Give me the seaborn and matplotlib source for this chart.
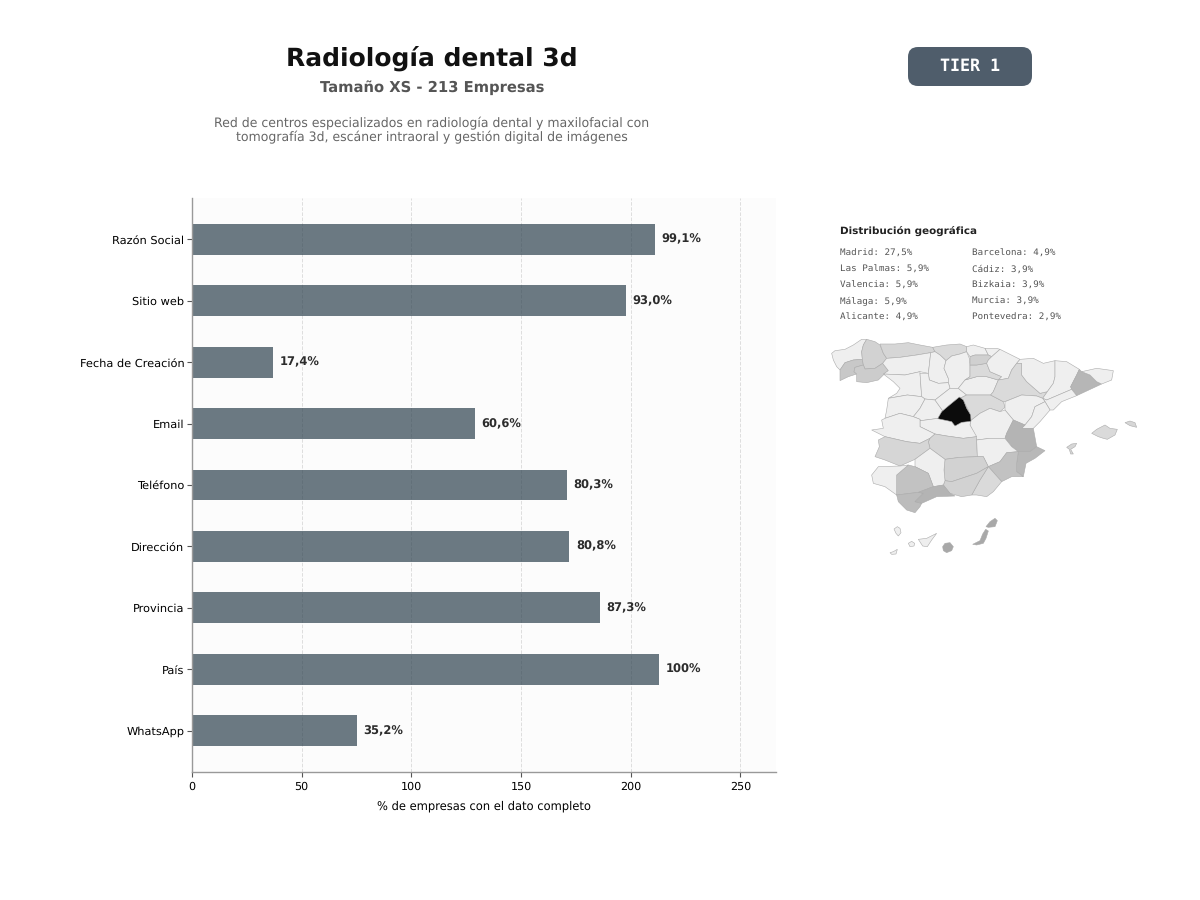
# Radiologia dental 3d - data completeness and geographic distribution
import matplotlib
matplotlib.use('Agg')
import pandas as pd
import seaborn as sns
import matplotlib.pyplot as plt
from matplotlib.patches import FancyBboxPatch

# DATA
campos = ['Razón Social', 'Sitio web', 'Fecha de Creación', 'Email', 'Teléfono',
          'Dirección', 'Provincia', 'País', 'WhatsApp']
empresas = [211, 198, 37, 129, 171, 172, 186, 213, 75]
etiquetas = ['99,1%', '93,0%', '17,4%', '60,6%', '80,3%', '80,8%', '87,3%', '100%', '35,2%']
ticks_x = [0, 50, 100, 150, 200, 250]

geo_col1 = ['Madrid: 27,5%', 'Las Palmas: 5,9%', 'Valencia: 5,9%', 'Málaga: 5,9%', 'Alicante: 4,9%']
geo_col2 = ['Barcelona: 4,9%', 'Cádiz: 3,9%', 'Bizkaia: 3,9%', 'Murcia: 3,9%', 'Pontevedra: 2,9%']

# province outlines, with the grey each one is filled with
provincias = {
    'Coruña': ('#efefef', [(35, 70), (45, 62), (75, 58), (100, 45), (125, 28), (140, 28), (130, 45), (125, 65), (127, 88), (100, 90), (75, 98), (60, 120), (50, 110), (40, 90)]),
    'Pontevedra': ('#c8c8c8', [(60, 152), (60, 120), (75, 98), (100, 90), (127, 88), (130, 105), (105, 112), (102, 125), (110, 132), (85, 140)]),
    'Lugo': ('#d2d2d2', [(140, 28), (165, 35), (180, 45), (190, 70), (200, 85), (188, 100), (165, 115), (135, 117), (130, 105), (127, 88), (125, 65), (130, 45)]),
    'Ourense': ('#cccccc', [(105, 112), (130, 105), (135, 117), (165, 115), (188, 100), (205, 122), (195, 130), (175, 150), (140, 158), (110, 155), (110, 132), (102, 125)]),
    'Asturias': ('#d6d6d6', [(180, 42), (225, 42), (265, 38), (300, 45), (338, 52), (345, 65), (332, 68), (290, 75), (240, 82), (200, 85), (190, 70)]),
    'Cantabria': ('#dadada', [(338, 52), (380, 45), (420, 42), (440, 50), (440, 65), (420, 72), (395, 78), (378, 92), (360, 75), (345, 65)]),
    'León': ('#efefef', [(200, 85), (240, 82), (290, 75), (332, 68), (328, 105), (325, 130), (300, 125), (255, 135), (190, 132), (205, 122), (188, 100)]),
    'Palencia': ('#efefef', [(332, 68), (345, 65), (360, 75), (378, 92), (372, 115), (385, 145), (385, 158), (355, 160), (328, 150), (325, 130), (328, 105)]),
    'Burgos': ('#efefef', [(378, 92), (395, 78), (420, 72), (440, 65), (448, 85), (450, 105), (450, 140), (435, 150), (415, 175), (390, 175), (385, 158), (385, 145), (372, 115)]),
    'Zamora': ('#efefef', [(190, 132), (255, 135), (300, 125), (300, 130), (305, 200), (262, 195), (205, 205), (230, 190), (240, 175), (220, 155)]),
    'Valladolid': ('#efefef', [(300, 130), (325, 130), (328, 150), (355, 160), (385, 158), (390, 175), (345, 210), (315, 207), (305, 200)]),
    'Salamanca': ('#efefef', [(205, 205), (262, 195), (305, 200), (315, 207), (300, 235), (280, 260), (240, 250), (195, 265), (200, 240)]),
    'Ávila': ('#efefef', [(315, 207), (345, 210), (370, 245), (355, 265), (295, 273), (280, 260), (300, 235)]),
    'Segovia': ('#efefef', [(345, 210), (390, 175), (415, 175), (440, 195), (420, 205), (395, 225), (370, 245)]),
    'Soria': ('#efefef', [(415, 175), (435, 150), (470, 140), (500, 140), (535, 150), (520, 185), (512, 195), (470, 195), (440, 195)]),
    'La Rioja': ('#dadada', [(450, 105), (470, 105), (500, 100), (510, 125), (545, 140), (535, 150), (500, 140), (470, 140), (435, 150), (450, 140)]),
    'Guadalajara': ('#dadada', [(420, 205), (440, 195), (470, 195), (512, 195), (550, 215), (555, 232), (540, 245), (510, 235), (480, 250), (452, 272), (445, 240), (432, 215)]),
    'Bizkaia': ('#efefef', [(440, 50), (460, 45), (495, 55), (505, 75), (465, 75), (450, 80), (440, 65)]),
    'Gipuzkoa': ('#efefef', [(495, 55), (530, 55), (540, 58), (515, 80), (505, 75)]),
    'Álava': ('#d0d0d0', [(450, 80), (465, 75), (505, 75), (515, 80), (505, 90), (500, 100), (470, 105), (450, 105)]),
    'Navarra': ('#efefef', [(505, 90), (515, 80), (540, 58), (600, 88), (590, 100), (575, 120), (565, 145), (535, 150), (545, 140), (510, 125), (500, 100)]),
    'Zaragoza': ('#dadada', [(565, 145), (575, 120), (590, 100), (605, 100), (605, 135), (620, 155), (660, 190), (682, 185), (668, 205), (650, 198), (605, 195), (555, 215), (550, 215), (512, 195), (520, 185), (535, 150)]),
    'Huesca': ('#efefef', [(600, 88), (640, 85), (670, 100), (705, 92), (705, 140), (700, 160), (682, 185), (660, 190), (620, 155), (605, 135), (605, 100), (590, 100)]),
    'Lleida': ('#efefef', [(705, 92), (740, 95), (778, 118), (770, 135), (752, 170), (755, 178), (680, 210), (668, 205), (682, 185), (700, 160), (705, 140)]),
    'Barcelona': ('#b6b6b6', [(778, 118), (785, 125), (810, 135), (830, 155), (845, 162), (770, 197), (755, 178), (752, 170), (770, 135)]),
    'Girona': ('#efefef', [(785, 125), (830, 115), (880, 122), (875, 150), (845, 162), (830, 155), (810, 135)]),
    'Tarragona': ('#efefef', [(680, 210), (755, 178), (770, 197), (725, 215), (700, 240), (690, 240), (675, 215), (668, 205)]),
    'Teruel': ('#efefef', [(555, 215), (605, 195), (650, 198), (668, 205), (675, 215), (645, 230), (635, 260), (615, 285), (580, 270), (555, 240), (555, 232)]),
    'Castellón': ('#efefef', [(645, 230), (675, 215), (690, 240), (660, 275), (640, 295), (605, 295), (615, 285), (635, 260)]),
    'Cuenca': ('#efefef', [(480, 250), (510, 235), (540, 245), (555, 240), (580, 270), (560, 310), (555, 325), (510, 325), (470, 330), (450, 285), (452, 272)]),
    'Valencia': ('#b4b4b4', [(580, 270), (615, 285), (605, 295), (640, 295), (650, 350), (630, 365), (595, 365), (575, 350), (555, 325), (560, 310)]),
    'Toledo': ('#efefef', [(280, 260), (295, 273), (355, 265), (395, 272), (405, 285), (425, 275), (452, 272), (450, 285), (470, 320), (430, 325), (380, 318), (345, 312), (300, 290), (300, 268)]),
    'Cáceres': ('#efefef', [(195, 265), (240, 250), (280, 260), (300, 268), (300, 290), (345, 312), (330, 325), (300, 340), (260, 335), (195, 320), (155, 300), (190, 295), (185, 270)]),
    'Ciudad Real': ('#d6d6d6', [(345, 312), (380, 318), (430, 325), (470, 320), (470, 330), (472, 380), (420, 382), (375, 388), (330, 355), (325, 335), (330, 325)]),
    'Badajoz': ('#d6d6d6', [(175, 330), (195, 320), (260, 335), (300, 340), (330, 325), (325, 335), (330, 355), (285, 388), (240, 408), (195, 390), (165, 380), (178, 350)]),
    'Albacete': ('#efefef', [(470, 330), (510, 325), (555, 325), (575, 350), (595, 365), (560, 368), (540, 395), (505, 410), (490, 380), (472, 380)]),
    'Alicante': ('#b8b8b8', [(595, 365), (630, 365), (650, 350), (675, 362), (645, 385), (618, 400), (610, 440), (590, 425), (590, 400)]),
    'Murcia': ('#c2c2c2', [(505, 410), (540, 395), (560, 368), (595, 365), (590, 400), (590, 425), (610, 440), (575, 440), (545, 455)]),
    'Almería': ('#dadada', [(505, 410), (545, 455), (520, 485), (500, 500), (470, 495), (455, 495), (480, 450)]),
    'Jaén': ('#d2d2d2', [(375, 388), (420, 382), (472, 380), (490, 380), (505, 410), (470, 430), (395, 455), (375, 452), (372, 420)]),
    'Granada': ('#d2d2d2', [(370, 465), (375, 452), (395, 455), (470, 430), (505, 410), (480, 450), (455, 495), (425, 500), (390, 490)]),
    'Córdoba': ('#efefef', [(285, 388), (330, 355), (375, 388), (372, 420), (375, 452), (370, 465), (340, 470), (325, 430), (285, 410)]),
    'Sevilla': ('#c2c2c2', [(230, 435), (265, 405), (285, 410), (325, 430), (340, 470), (295, 487), (230, 495)]),
    'Huelva': ('#efefef', [(155, 435), (175, 410), (240, 408), (265, 405), (230, 435), (230, 495), (195, 470), (160, 460)]),
    'Cádiz': ('#bcbcbc', [(230, 495), (295, 487), (310, 490), (285, 515), (305, 520), (300, 530), (285, 548), (260, 540), (235, 515)]),
    'Málaga': ('#b4b4b4', [(285, 515), (310, 490), (295, 487), (340, 470), (370, 465), (390, 490), (405, 498), (350, 500), (305, 520)]),
    'Mallorca': ('#dadada', [(815, 310), (830, 298), (855, 285), (870, 295), (892, 298), (885, 315), (862, 328), (850, 325), (835, 320)]),
    'Menorca': ('#d6d6d6', [(915, 278), (930, 273), (945, 278), (950, 292), (930, 287)]),
    'Ibiza': ('#d6d6d6', [(740, 352), (755, 342), (770, 340), (765, 350), (752, 358), (760, 372), (752, 372), (748, 358)]),
    'Lanzarote': ('#a8a8a8', [(498, 590), (510, 575), (525, 565), (532, 572), (525, 590), (505, 592)]),
    'Fuerteventura': ('#a8a8a8', [(458, 643), (480, 632), (488, 612), (497, 598), (505, 603), (498, 625), (490, 640), (470, 645)]),
    'Gran Canaria': ('#a8a8a8', [(368, 650), (375, 640), (390, 638), (400, 650), (395, 662), (380, 668), (370, 662)]),
    'Tenerife': ('#eeeeee', [(295, 628), (320, 625), (350, 610), (335, 630), (322, 650), (308, 648)]),
    'La Gomera': ('#efefef', [(265, 640), (275, 634), (284, 640), (282, 648), (270, 650)]),
    'La Palma': ('#efefef', [(222, 597), (232, 590), (240, 595), (243, 608), (235, 618), (228, 610)]),
    'El Hierro': ('#efefef', [(210, 668), (220, 665), (232, 658), (228, 672), (215, 673)]),
    'Madrid': ('#0c0c0c', [(418, 201), (430, 210), (440, 235), (452, 255), (453, 274), (425, 277), (405, 288), (395, 275), (353, 266), (365, 245), (385, 228)]),
}

df = pd.DataFrame({'campo': campos, 'empresas': empresas})

sns.set_theme(style='white')
plt.rcParams['font.family'] = ['DejaVu Sans']
plt.rcParams['text.hinting'] = 'no_hinting'
plt.rcParams['text.hinting_factor'] = 8

W, H = 1200, 900
fig = plt.figure(figsize=(12, 9), dpi=100, facecolor='white')

# BARS
ax = fig.add_axes([192 / W, 1 - 772 / H, (776 - 192) / W, (772 - 198) / H])
ax.set_facecolor('#fcfcfc')
sns.barplot(data=df, y='campo', x='empresas', color='#2e424f', saturation=1, alpha=0.7,
            width=0.5, orient='h', linewidth=0, ax=ax)
ax.set_xlim(0, 266.25)
ax.set_ylim(8.675, -0.675)
ax.set_xticks(ticks_x)
ax.set_axisbelow(True)
ax.grid(axis='x', linestyle='--', color='#999999', alpha=0.3, linewidth=0.7)
ax.grid(axis='y', visible=False)
ax.tick_params(axis='both', left=True, bottom=True, length=3.5, width=0.8, color='#555555')
ax.tick_params(axis='y', labelsize=8.2, labelcolor='black', pad=2)
ax.tick_params(axis='x', labelsize=8, labelcolor='black', pad=3.5)
ax.set_ylabel('')
ax.set_xlabel('% de empresas con el dato completo', fontsize=8.3, color='black', labelpad=6)
sns.despine(ax=ax)
for side in ['left', 'bottom']:
    ax.spines[side].set_color('#999999')
    ax.spines[side].set_linewidth(1)

for i, (v, lab) in enumerate(zip(empresas, etiquetas)):
    ax.text(v + 3, i, lab, va='center', ha='left', fontsize=8.3, fontweight='bold', color='#2c2c2c')

# OVERLAY FOR HEADER TEXT, BADGE AND LIST, IN PIXELS
top = fig.add_axes([0, 0, 1, 1], zorder=5)
top.set_xlim(0, W)
top.set_ylim(H, 0)
top.axis('off')
top.patch.set_alpha(0)

top.text(432, 58, 'Radiología dental 3d', ha='center', va='center', fontsize=18,
         fontweight='bold', color='#111111')
top.text(432, 88, 'Tamaño XS - 213 Empresas', ha='center', va='center', fontsize=10.6,
         fontweight='bold', color='#555555')
top.text(432, 123, 'Red de centros especializados en radiología dental y maxilofacial con',
         ha='center', va='center', fontsize=9, color='#666666')
top.text(432, 137.5, 'tomografía 3d, escáner intraoral y gestión digital de imágenes',
         ha='center', va='center', fontsize=9, color='#666666')

top.add_patch(FancyBboxPatch((908, 47), 124, 39, boxstyle='round,pad=0,rounding_size=10',
                             linewidth=0, facecolor='#4f5d6b'))
top.text(970, 66, 'TIER 1', ha='center', va='center', fontsize=12, fontweight='bold',
         family='DejaVu Sans Mono', color='white')

top.text(840, 230.5, 'Distribución geográfica', ha='left', va='center', fontsize=7.5,
         fontweight='bold', color='#222222')
for i, (a, b) in enumerate(zip(geo_col1, geo_col2)):
    y = 253.5 + i * 16
    top.text(840, y, a, ha='left', va='center', fontsize=6.7, family='DejaVu Sans Mono', color='#555555')
    top.text(972, y, b, ha='left', va='center', fontsize=6.7, family='DejaVu Sans Mono', color='#555555')

# MAP, outline units are a third of a pixel
mapa = fig.add_axes([820 / W, 1 - 570 / H, 330 / W, 240 / H], zorder=4)
mapa.set_xlim(0, 990)
mapa.set_ylim(720, 0)
mapa.axis('off')
for nombre, (gris, contorno) in provincias.items():
    xs = [p[0] for p in contorno]
    ys = [p[1] for p in contorno]
    mapa.fill(xs, ys, facecolor=gris, edgecolor='#ababab', linewidth=0.4)

fig.savefig('out.png', dpi=100, facecolor='white')
